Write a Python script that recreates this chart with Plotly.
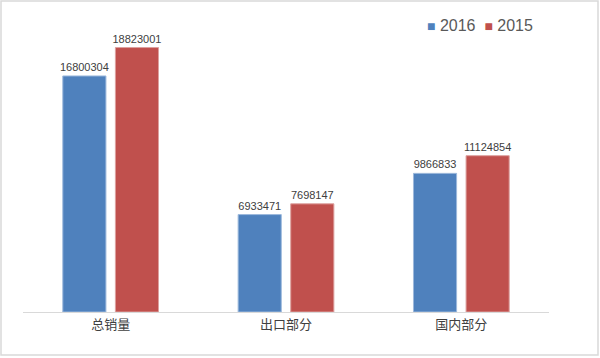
import plotly.graph_objects as go

categories = ["总销量", "出口部分", "国内部分"]
values_2016 = [16800304, 6933471, 9866833]
values_2015 = [18823001, 7698147, 11124854]
series_names = ["2016", "2015"]
colors = ["#4F81BD", "#C0504D"]
edge_colors = ["#9DB9DC", "#DDA09E"]

W, H = 600, 358
ml, mr, mt, mb = 23, 51, 31, 46
pw, ph = W - ml - mr, H - mt - mb

fig = go.Figure()
for name, vals, c, ec in zip(series_names, [values_2016, values_2015], colors, edge_colors):
    fig.add_trace(go.Bar(
        x=categories, y=vals, name=name,
        marker=dict(color=c, line=dict(color=ec, width=1)),
        text=[str(v) for v in vals], textposition="outside", constraintext="none",
        textfont=dict(size=11, color="#404040", family="Liberation Sans, Arial"),
        cliponaxis=False, showlegend=False,
    ))

def px_x(p):
    return (p - ml) / pw

def px_y(p):
    return (H - mb - p) / ph

legend_text = "  ".join(
    f"<span style='color:{c};font-size:14px'>■</span> {n}" for n, c in zip(series_names, colors)
)

fig.update_layout(
    width=W, height=H,
    margin=dict(l=ml, r=mr, t=mt, b=mb, autoexpand=False),
    barmode="group", bargap=0.40, bargroupgap=0.18,
    plot_bgcolor="white", paper_bgcolor="white",
    font=dict(family="Noto Sans CJK SC", color="#595959"),
    showlegend=False,
    xaxis=dict(showline=True, linecolor="#D9D9D9", linewidth=1, ticks="",
               tickfont=dict(size=13, color="#404040", family="Noto Sans CJK SC"),
               showgrid=False),
    yaxis=dict(range=[0, 20000000], visible=False, showgrid=False, zeroline=False),
    annotations=[dict(xref="paper", yref="paper", x=px_x(425), y=px_y(26),
                      xanchor="left", yanchor="middle", showarrow=False,
                      text=legend_text,
                      font=dict(size=16, color="#595959", family="Liberation Sans, Arial"))],
    shapes=[dict(type="rect", xref="paper", yref="paper",
                 x0=px_x(1), x1=px_x(598), y0=px_y(355), y1=px_y(1),
                 line=dict(color="#D9D9D9", width=1.5), fillcolor="rgba(0,0,0,0)", layer="below")],
)

fig.write_html("out.html", config={"displayModeBar": False},
               post_script="document.body.style.margin='0';document.body.style.overflow='hidden';")
